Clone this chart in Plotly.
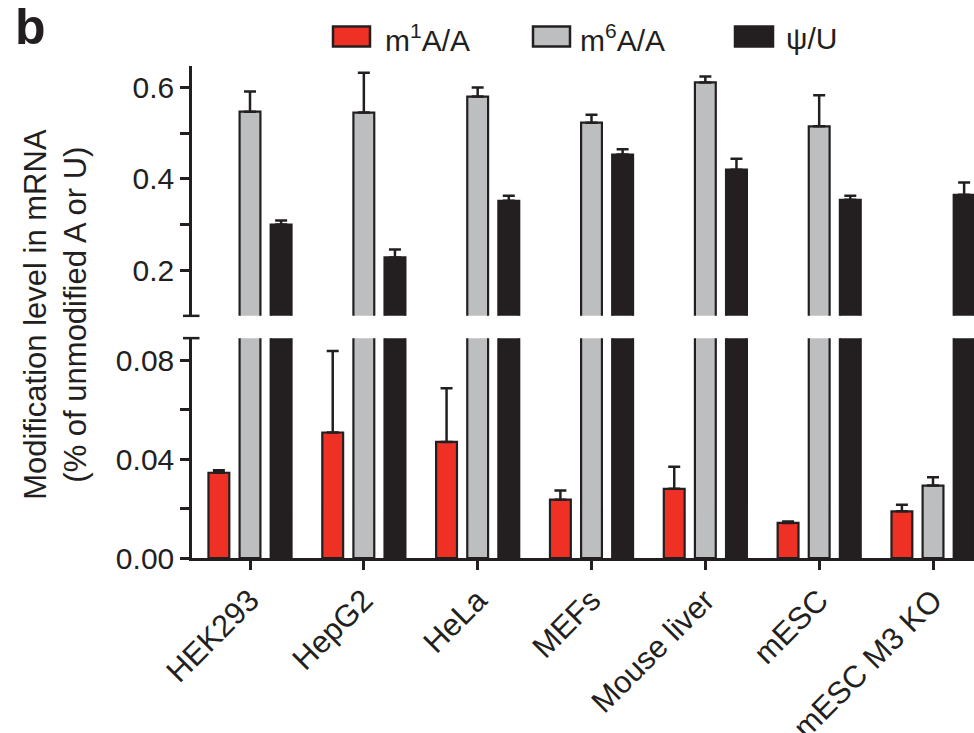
import plotly.graph_objects as go

categories = ["HEK293", "HepG2", "HeLa", "MEFs", "Mouse liver", "mESC", "mESC M3 KO"]
m1A = [0.0345, 0.0508, 0.047, 0.0236, 0.028, 0.0142, 0.0189]
m1A_err = [0.0010, 0.033, 0.0217, 0.0037, 0.0089, 0.0006, 0.0027]
m6A = [0.547, 0.545, 0.580, 0.523, 0.611, 0.515, 0.0293]
m6A_err = [0.044, 0.087, 0.020, 0.017, 0.013, 0.068, 0.0034]
psiU = [0.300, 0.228, 0.352, 0.453, 0.420, 0.354, 0.365]
psiU_err = [0.009, 0.017, 0.011, 0.012, 0.024, 0.009, 0.027]

series_names = ["m<sup>1</sup>A/A", "m<sup>6</sup>A/A", "ψ/U"]
series_colors = ["#ee3124", "#bcbec0", "#231f20"]
series_vals = [m1A, m6A, psiU]
series_errs = [m1A_err, m6A_err, psiU_err]

top_ticks = [0.2, 0.4, 0.6]
top_minor = [0.3, 0.5]
bot_ticks = [0.0, 0.04, 0.08]
bot_minor = [0.02, 0.06]

INK = "#231f20"
FONT = "Liberation Sans, Arial, Helvetica, sans-serif"

W, H = 974, 733
PX0, PX1, PY0, PY1 = 192, 974, 66, 558.3


def px(x):
    return (x - PX0) / (PX1 - PX0)


def py(y):
    return (PY1 - y) / (PY1 - PY0)


top_dom = [py(316), 1.0]
bot_dom = [0.0, py(338.3)]

fig = go.Figure()
for name, col, vals, errs in zip(series_names, series_colors, series_vals, series_errs):
    for yax, xax in (("y", "x"), ("y2", "x2")):
        fig.add_trace(go.Bar(
            x=categories, y=vals, name=name, xaxis=xax, yaxis=yax,
            marker=dict(color=col, line=dict(color=INK, width=2.2)),
            error_y=dict(type="data", array=errs, arrayminus=[0] * len(errs),
                         symmetric=False, color=INK, thickness=2.5, width=6),
            showlegend=False,
        ))

axis_common = dict(showline=True, linecolor=INK, linewidth=2.5, ticks="outside",
                   ticklen=9, tickwidth=2.5, tickcolor=INK, showgrid=False, zeroline=False,
                   tickmode="array", automargin=False,
                   tickfont=dict(family=FONT, size=30, color=INK))

fig.update_layout(
    width=W, height=H,
    margin=dict(l=PX0, r=W - PX1, t=PY0, b=H - PY1, autoexpand=False),
    paper_bgcolor="white", plot_bgcolor="white",
    barmode="group", bargap=0.18, bargroupgap=0.33,
    showlegend=False,
    xaxis=dict(domain=[0, 1], anchor="y", range=[-0.5095, 6.36], showline=True,
               linecolor=INK, linewidth=2.5, ticks="outside", ticklen=9, tickwidth=2.5,
               tickcolor=INK, tickangle=-45, showgrid=False, zeroline=False,
               automargin=False,
               tickfont=dict(family=FONT, size=31, color=INK)),
    xaxis2=dict(domain=[0, 1], anchor="y2", matches="x", showline=False, ticks="",
                showticklabels=False, showgrid=False, zeroline=False, automargin=False),
    yaxis=dict(domain=bot_dom, anchor="x", range=[0, 0.089], tickvals=bot_ticks,
               tickformat=".2f",
               minor=dict(tickmode="array", tickvals=bot_minor, ticks="outside", ticklen=9,
                          tickwidth=2.5, tickcolor=INK, showgrid=False),
               **axis_common),
    yaxis2=dict(domain=top_dom, anchor="x2", range=[0.1, 0.647], tickvals=top_ticks,
                tickformat=".1f",
                minor=dict(tickmode="array", tickvals=top_minor, ticks="outside", ticklen=9,
                           tickwidth=2.5, tickcolor=INK, showgrid=False),
                **axis_common),
)

shapes = []
# axis break caps
for yy in (316, 338.3):
    shapes.append(dict(type="line", xref="paper", yref="paper", x0=px(183), x1=px(199.5),
                       y0=py(yy), y1=py(yy), line=dict(color=INK, width=2.5)))

# manual legend
legend_boxes = [(333, 370), (533, 570), (735, 773)]
legend_text_x = [383, 578, 784]
for (bx0, bx1), col in zip(legend_boxes, series_colors):
    shapes.append(dict(type="rect", xref="paper", yref="paper", x0=px(bx0), x1=px(bx1),
                       y0=py(46.5), y1=py(26.5), fillcolor=col, line=dict(color=INK, width=2.5)))
fig.update_layout(shapes=shapes)

annotations = []
for name, tx in zip(series_names, legend_text_x):
    annotations.append(dict(text=name, xref="paper", yref="paper", x=px(tx), y=py(38),
                            xanchor="left", yanchor="middle", showarrow=False,
                            font=dict(family=FONT, size=30, color=INK)))
annotations.append(dict(text="<b>b</b>", xref="paper", yref="paper", x=px(13), y=py(27),
                        xanchor="left", yanchor="middle", showarrow=False,
                        font=dict(family=FONT, size=50, color=INK)))
annotations.append(dict(text="Modification level in mRNA<br>(% of unmodified A or U)",
                        xref="paper", yref="paper", x=px(56), y=py(315), textangle=-90,
                        xanchor="center", yanchor="middle", showarrow=False,
                        font=dict(family=FONT, size=31, color=INK)))
fig.update_layout(annotations=annotations)

fig.write_html("out.html")
